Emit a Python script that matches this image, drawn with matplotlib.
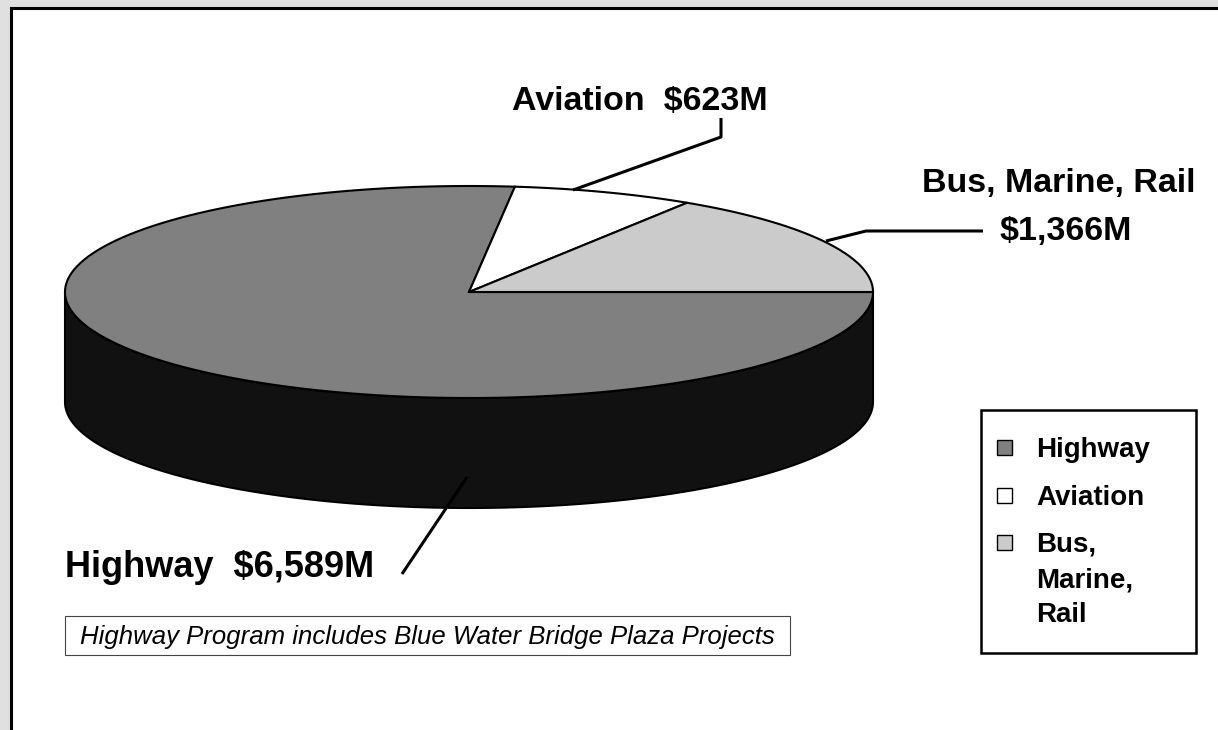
import numpy as np
import matplotlib

matplotlib.use("Agg")
import matplotlib.pyplot as plt
from matplotlib.patches import Polygon, Rectangle

# Program totals, $ millions
categories = ["Highway", "Aviation", "Bus, Marine, Rail"]
values = [6589, 623, 1366]
legend_labels = ["Highway", "Aviation", "Bus,\nMarine,\nRail"]
top_colors = ["#808080", "#ffffff", "#cbcbcb"]
side_colors = ["#111111", "#9a9a9a", "#6e6e6e"]
note = "Highway Program includes Blue Water Bridge Plaza Projects"

plt.rcParams["font.family"] = ["Liberation Sans", "DejaVu Sans"]

W, H = 1218, 730
fig = plt.figure(figsize=(W / 100, H / 100), dpi=100, facecolor="#e0e0e0")
ax = fig.add_axes([0, 0, 1, 1])
ax.set_xlim(0, W)
ax.set_ylim(H, 0)
ax.axis("off")

# chart area frame
ax.add_patch(Rectangle((11, 8), W + 40, H + 40, facecolor="white",
                       edgecolor="black", lw=2.2, zorder=0))

# 3-D pie: ellipse top + extruded front wall (pixel layout)
cx, cy, rx, ry, depth = 469, 292, 404, 106, 110


def rim(theta, drop=0.0):
    t = np.radians(theta)
    return np.column_stack([cx + rx * np.cos(t), cy - ry * np.sin(t) + drop])


spans = np.array(values) / sum(values) * 360
ends = -np.cumsum(np.r_[0, spans[:-1]])  # clockwise from 3 o'clock
starts = ends - spans

for i in range(len(values)):
    s = starts[i] % 360
    e = s + spans[i]
    # front wall, only the part facing the viewer
    for lo, hi in [(180, 360), (540, 720)]:
        a, b = max(s, lo), min(e, hi)
        if b > a:
            th = np.linspace(a, b, 200)
            pts = np.vstack([rim(th), rim(th[::-1], depth)])
            ax.add_patch(Polygon(pts, closed=True, facecolor=side_colors[i],
                                 edgecolor="black", lw=1.5, zorder=1))

for i in range(len(values)):
    s = starts[i] % 360
    th = np.linspace(s, s + spans[i], 300)
    pts = np.vstack([[cx, cy], rim(th)])
    ax.add_patch(Polygon(pts, closed=True, facecolor=top_colors[i],
                         edgecolor="black", lw=1.5, zorder=2))

# data labels with leader lines
label_font = dict(fontweight="bold", va="baseline", color="black", zorder=4)
lead = dict(color="black", lw=2.2, solid_capstyle="butt", zorder=3)

ax.text(65, 577, f"{categories[0]}  ${values[0]:,}M", fontsize=26, ha="left", **label_font)
ax.plot([467, 402], [477, 574], **lead)

ax.text(512, 110, f"{categories[1]}  ${values[1]:,}M", fontsize=24.5, ha="left", **label_font)
ax.plot([573, 721, 721], [190, 137, 118], **lead)

ax.text(1059, 192, categories[2], fontsize=24.5, ha="center", **label_font)
ax.text(1066, 240, f"${values[2]:,}M", fontsize=24.5, ha="center", **label_font)
ax.plot([826, 866, 983], [241, 231, 231], **lead)

# footnote box
ax.add_patch(Rectangle((65, 616), 725, 39, facecolor="white",
                       edgecolor="#444444", lw=0.8, zorder=3))
ax.text(80, 644, note, fontsize=18.5, style="italic", ha="left",
        va="baseline", zorder=4)

# legend
ax.add_patch(Rectangle((981, 410), 215, 243, facecolor="white",
                       edgecolor="black", lw=1.8, zorder=3))
baselines = [457, 505, 552]
for lab, col, yb in zip(legend_labels, top_colors, baselines):
    ax.add_patch(Rectangle((997, yb - 17), 15, 15, facecolor=col,
                           edgecolor="black", lw=1.0, zorder=4))
    for k, line in enumerate(lab.split("\n")):
        ax.text(1036, yb + 35 * k, line, fontsize=20, fontweight="bold",
                ha="left", va="baseline", zorder=4)

fig.savefig("out.png", dpi=100, facecolor=fig.get_facecolor())
